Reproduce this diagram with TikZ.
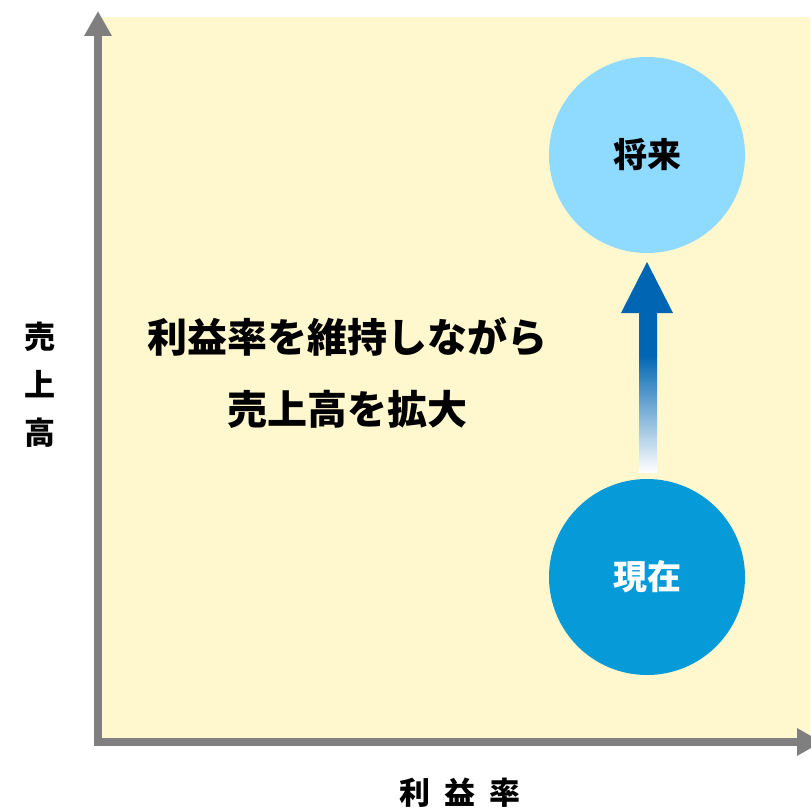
\documentclass[tikz,border=0pt]{standalone}
\usepackage{fontspec}
\newfontfamily\jp{Noto Sans CJK JP}
\usetikzlibrary{arrows.meta}
\definecolor{bgyellow}{HTML}{FFF7CD}
\definecolor{axisgray}{HTML}{7F7F7F}
\definecolor{lightblue}{HTML}{8FDBFF}
\definecolor{midblue}{HTML}{069BD8}
\definecolor{arrowblue}{HTML}{0066B3}
\tikzset{
  axisline/.style={draw=axisgray,line width=8pt,-{Triangle[width=26pt,length=25pt]}},
  bubble/.style={circle,minimum size=196pt,inner sep=0pt,font=\jp\bfseries\fontsize{34}{36}\selectfont},
  axislabel/.style={font=\jp\bfseries\fontsize{31}{48}\selectfont,text=black,align=center},
  mainlabel/.style={font=\jp\bfseries\fontsize{40}{72}\selectfont,text=black,align=center}
}
\begin{document}
\begin{tikzpicture}[x=1pt,y=-1pt]
\useasboundingbox (0,0) rectangle (810,810);
\fill[bgyellow] (102,17) rectangle (810,740);
\coordinate (origin) at (98,742);
\coordinate (ytip) at (98,11);
\coordinate (xtip) at (822,742);
\draw[axisline] (origin) -- (ytip);
\draw[axisline] (94,742) -- (xtip);
\node[bubble,fill=lightblue,text=black] (future) at (647,155) {将来};
\node[bubble,fill=midblue,text=white] (now) at (647,577) {現在};
% growth arrow
\fill[arrowblue] (639,313) -- (621,313) -- (647,262) -- (673,313) -- (657,313) -- (657,356) -- (639,356) -- cycle;
\shade[top color=arrowblue,bottom color=white] (639,355) rectangle (657,472);
\node[mainlabel] (msg) at (347,373) {利益率を維持しながら\\売上高を拡大};
\node[axislabel] (ylab) at (40,385) {売\\上\\高};
\node[axislabel] (xlab) at (460,793) {利\hspace{14pt}益\hspace{14pt}率};
\end{tikzpicture}
\end{document}
